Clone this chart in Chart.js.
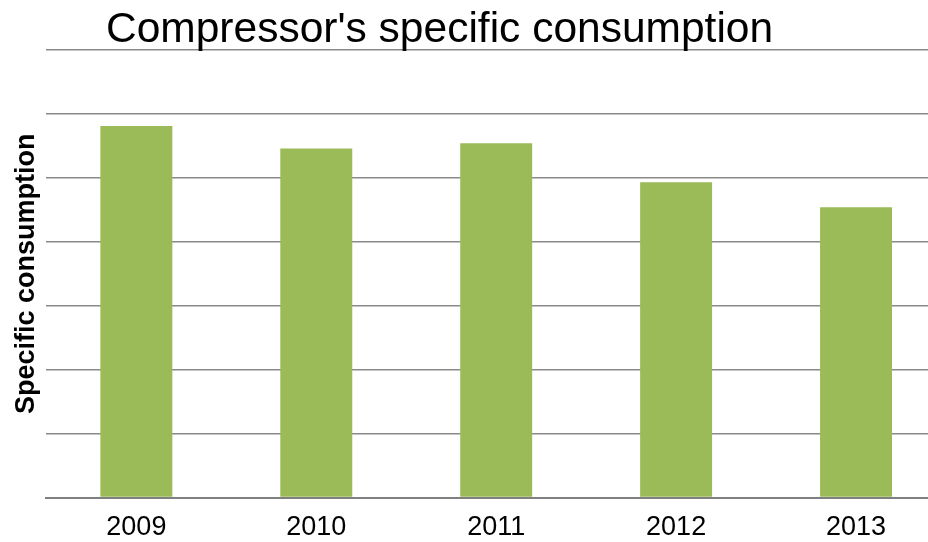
<!DOCTYPE html>
<html>
<head>
<meta charset="utf-8">
<script src="https://cdn.jsdelivr.net/npm/chart.js@4/dist/chart.umd.min.js"></script>
<style>
    html, body { margin: 0; padding: 0; background: #fff; overflow: hidden; }
    #wrap { position: relative; width: 928px; height: 542px; overflow: hidden; }
    #title {
        position: absolute; left: 106px; top: 7px;
        font-family: "Liberation Sans", Arial, sans-serif;
        font-size: 42.5px; line-height: 42px; color: #000;
        white-space: nowrap; z-index: 2;
    }
    #barChart { position: absolute; left: 0; top: 0; }
</style>
</head>
<body>
<div id="wrap">
    <div id="title">Compressor's specific consumption</div>
    <canvas id="barChart" width="946" height="558"></canvas>
</div>
<script>
const years = ['2009', '2010', '2011', '2012', '2013'];
const consumption = [5.81, 5.46, 5.54, 4.93, 4.54];
const yMin = 0;
const yMax = 7;
const yStep = 1;

const barClr = '#9bbb59';
const gridClr = '#8a8a8a';
const fontFamily = '"Liberation Sans", Arial, sans-serif';

const barConfig = {
    type: 'bar',
    data: {
        labels: years,
        datasets: [{
            label: 'Specific consumption',
            data: consumption,
            backgroundColor: barClr,
            borderWidth: 0,
            categoryPercentage: 1,
            barPercentage: 0.4
        }]
    },
    options: {
        responsive: false,
        animation: false,
        layout: {
            padding: { left: 6, top: 50, right: 0, bottom: 0 }
        },
        scales: {
            y: {
                min: yMin,
                max: yMax,
                ticks: { display: false, stepSize: yStep },
                grid: { color: gridClr, lineWidth: 1.6, drawTicks: false },
                border: { display: false },
                title: {
                    display: true,
                    text: 'Specific consumption',
                    color: '#000',
                    font: { family: fontFamily, size: 27, weight: 'bold' },
                    padding: { top: 4, bottom: 4 }
                }
            },
            x: {
                grid: { display: false, drawTicks: false },
                border: { display: true, color: '#808080', width: 2 },
                ticks: {
                    color: '#000',
                    padding: 14,
                    font: { family: fontFamily, size: 27 }
                }
            }
        },
        plugins: {
            legend: { display: false },
            tooltip: { enabled: false }
        }
    }
};
new Chart(document.getElementById('barChart'), barConfig);
</script>
</body>
</html>
